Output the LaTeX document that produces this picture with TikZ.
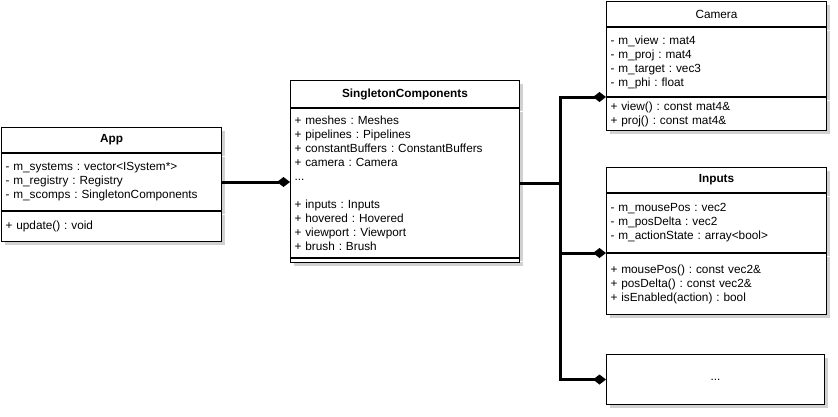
\documentclass[tikz,border=0pt]{standalone}
\usepackage{fontspec}
\setmainfont{Liberation Sans}
\usetikzlibrary{
	positioning,
	arrows.meta,
	shadows
}
\frenchspacing
\newcommand\umlsize{\fontsize{11.8pt}{14pt}\selectfont}
\tikzset{
	every node/.style={
		font=\umlsize
	},
	box/.style={
		draw, fill=white, line width=1pt,
		inner xsep=4pt, inner ysep=0pt,
		drop shadow={shadow xshift=3pt, shadow yshift=-3pt, opacity=0.18, fill=black}
	},
	classhead/.style={
		box, minimum height=25pt, font=\umlsize\bfseries
	},
	members/.style={
		box, align=left
	},
	compose/.style={
		line width=3pt, -{Diamond[length=13pt,width=10pt]}
	}
}

\begin{document}
\begin{tikzpicture}[x=1pt,y=-1pt]
	\useasboundingbox (0,0) rectangle (838,416);

	% App
	\node[classhead,minimum width=220pt,anchor=north west] (app) at (1,127) {App};
	\node[members,text width=212pt,minimum height=57pt,below=0pt of app] (app-attr)
		{- m\_systems : vector<ISystem*>\\- m\_registry : Registry\\- m\_scomps : SingletonComponents};
	\node[members,text width=212pt,minimum height=30pt,below=0pt of app-attr] (app-ops)
		{+ update() : void};

	% SingletonComponents
	\node[classhead,minimum width=229pt,minimum height=27pt,anchor=north west] (sc) at (290,80) {SingletonComponents};
	\node[members,text width=221pt,minimum height=149pt,below=0pt of sc] (sc-attr)
		{+ meshes : Meshes\\+ pipelines : Pipelines\\+ constantBuffers : ConstantBuffers\\+ camera : Camera\\...\\[14pt]+ inputs : Inputs\\+ hovered : Hovered\\+ viewport : Viewport\\+ brush : Brush};
	\node[members,text width=221pt,minimum height=4pt,below=0pt of sc-attr] (sc-ops) {};

	% Camera
	\node[classhead,minimum width=220pt,anchor=north west,font=\umlsize] (cam) at (606,1) {Camera};
	\node[members,text width=212pt,minimum height=69pt,below=0pt of cam] (cam-attr)
		{- m\_view : mat4\\- m\_proj : mat4\\- m\_target : vec3\\- m\_phi : float};
	\node[members,text width=212pt,minimum height=33pt,below=0pt of cam-attr] (cam-ops)
		{+ view() : const mat4\&\\+ proj() : const mat4\&};

	% Inputs
	\node[classhead,minimum width=220pt,anchor=north west] (inp) at (606,167) {Inputs};
	\node[members,text width=212pt,minimum height=59pt,below=0pt of inp] (inp-attr)
		{- m\_mousePos : vec2\\- m\_posDelta : vec2\\- m\_actionState : array<bool>};
	\node[members,text width=212pt,minimum height=61pt,below=0pt of inp-attr] (inp-ops)
		{+ mousePos() : const vec2\&\\+ posDelta() : const vec2\&\\+ isEnabled(action) : bool};

	% more
	\node[box,minimum width=218pt,minimum height=50pt,anchor=north west] (dots) at (606,354) {...};

	% composition
	\coordinate[right=40pt of sc-attr.east] (fork);
	\draw[compose] (app-attr.east) -- (sc-attr.west |- app-attr.east);
	\draw[compose] (sc-attr.east) -- (fork) |- (cam-ops.north west);
	\draw[compose] (fork) |- (inp-ops.north west);
	\draw[compose] (fork) |- (dots.west);
\end{tikzpicture}
\end{document}
